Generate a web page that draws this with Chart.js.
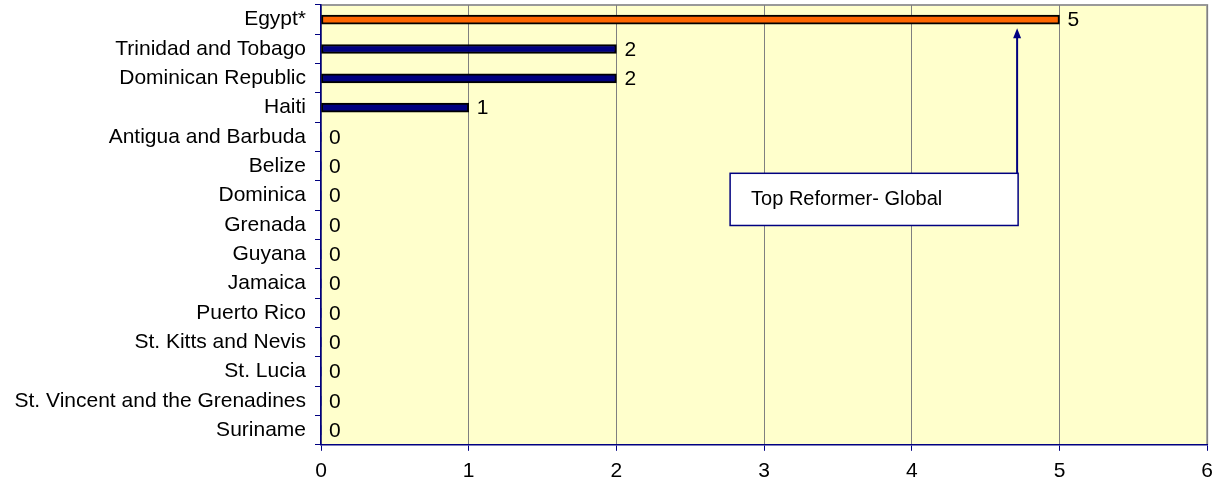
<!DOCTYPE html>
<html>
<head>
<meta charset="utf-8">
<script src="https://cdn.jsdelivr.net/npm/chart.js@4.4.1/dist/chart.umd.min.js"></script>
<style>
  html, body { margin: 0; padding: 0; background: #fff; }
  #wrap { width: 1221px; height: 487px; }
</style>
</head>
<body>
<div id="wrap"><canvas id="reformChart"></canvas></div>
<script>
  const countries = [
    'Egypt*', 'Trinidad and Tobago', 'Dominican Republic', 'Haiti',
    'Antigua and Barbuda', 'Belize', 'Dominica', 'Grenada', 'Guyana',
    'Jamaica', 'Puerto Rico', 'St. Kitts and Nevis', 'St. Lucia',
    'St. Vincent and the Grenadines', 'Suriname'
  ];
  const reforms = [5, 2, 2, 1, 0, 0, 0, 0, 0, 0, 0, 0, 0, 0, 0];
  const highlighted = ['Egypt*'];
  const xTicks = [0, 1, 2, 3, 4, 5, 6];

  const calloutText = 'Top Reformer- Global';
  // callout box in data units: x from / to, category index from / to, arrow tip index
  const calloutBox = { x0: 2.77, x1: 4.72, y0: 5.24, y1: 7.02, tipY: 0.29 };

  const FONT = '"Liberation Sans", Arial, Helvetica, sans-serif';
  const NAVY = '#000080';

  const plotBg = {
    id: 'plotBg',
    beforeDraw(chart) {
      const { ctx, chartArea: a } = chart;
      ctx.save();
      ctx.fillStyle = '#ffffcc';
      ctx.fillRect(a.left, a.top, a.right - a.left, a.bottom - a.top);
      ctx.strokeStyle = '#999999';
      ctx.lineWidth = 2;
      ctx.beginPath();
      ctx.moveTo(a.left, a.top);
      ctx.lineTo(a.right, a.top);
      ctx.lineTo(a.right, a.bottom);
      ctx.stroke();
      ctx.restore();
    }
  };

  const valueLabels = {
    id: 'valueLabels',
    afterDatasetsDraw(chart) {
      const { ctx } = chart;
      const meta = chart.getDatasetMeta(0);
      ctx.save();
      ctx.font = '21px ' + FONT;
      ctx.fillStyle = '#000';
      ctx.textBaseline = 'middle';
      ctx.textAlign = 'left';
      meta.data.forEach((bar, i) => {
        ctx.fillText(String(reforms[i]), bar.x + 8, bar.y + 1);
      });
      ctx.restore();
    }
  };

  const callout = {
    id: 'callout',
    afterDatasetsDraw(chart) {
      const { ctx, scales: { x, y } } = chart;
      const rowH = (y.getPixelForValue(1) - y.getPixelForValue(0));
      const left = x.getPixelForValue(calloutBox.x0);
      const right = x.getPixelForValue(calloutBox.x1);
      const top = y.getPixelForValue(0) + calloutBox.y0 * rowH;
      const bottom = y.getPixelForValue(0) + calloutBox.y1 * rowH;
      const tip = y.getPixelForValue(0) + calloutBox.tipY * rowH;
      ctx.save();
      ctx.fillStyle = '#fff';
      ctx.fillRect(left, top, right - left, bottom - top);
      ctx.strokeStyle = NAVY;
      ctx.lineWidth = 1.5;
      ctx.strokeRect(left, top, right - left, bottom - top);
      // arrow
      ctx.lineWidth = 2;
      ctx.beginPath();
      ctx.moveTo(right - 1, top);
      ctx.lineTo(right - 1, tip + 8);
      ctx.stroke();
      ctx.fillStyle = NAVY;
      ctx.beginPath();
      ctx.moveTo(right - 1, tip);
      ctx.lineTo(right - 5, tip + 10);
      ctx.lineTo(right + 3, tip + 10);
      ctx.closePath();
      ctx.fill();
      ctx.fillStyle = '#000';
      ctx.font = '20px ' + FONT;
      ctx.textBaseline = 'middle';
      ctx.fillText(calloutText, left + 21, (top + bottom) / 2);
      ctx.restore();
    }
  };

  new Chart(document.getElementById('reformChart'), {
    type: 'bar',
    data: {
      labels: countries,
      datasets: [{
        data: reforms,
        backgroundColor: countries.map(c => highlighted.includes(c) ? '#ff6600' : NAVY),
        borderColor: '#000',
        borderWidth: ctx => ctx.raw ? 2 : 0,
        borderSkipped: false,
        barThickness: 9
      }]
    },
    options: {
      indexAxis: 'y',
      responsive: true,
      maintainAspectRatio: false,
      animation: false,
      layout: { padding: { top: 5, right: 13, bottom: -5, left: 0 } },
      scales: {
        x: {
          min: 0,
          max: 6,
          afterBuildTicks: axis => { axis.ticks = xTicks.map(v => ({ value: v })); },
          grid: { color: '#808080', lineWidth: 1, tickColor: NAVY, tickLength: 6 },
          border: { color: NAVY, width: 1.5 },
          ticks: { color: '#000', font: { family: FONT, size: 21 }, padding: 8, maxRotation: 0 }
        },
        y: {
          grid: { drawOnChartArea: false, color: NAVY, tickLength: 6 },
          border: { color: NAVY, width: 1.5 },
          ticks: { color: '#000', font: { family: FONT, size: 21 }, padding: 9, autoSkip: false },
          afterFit: axis => {
            axis.width = 321;
            axis.paddingTop = 0;
            axis.paddingBottom = 0;
          }
        }
      },
      plugins: {
        legend: { display: false },
        tooltip: { enabled: false }
      }
    },
    plugins: [plotBg, valueLabels, callout]
  });
</script>
</body>
</html>
